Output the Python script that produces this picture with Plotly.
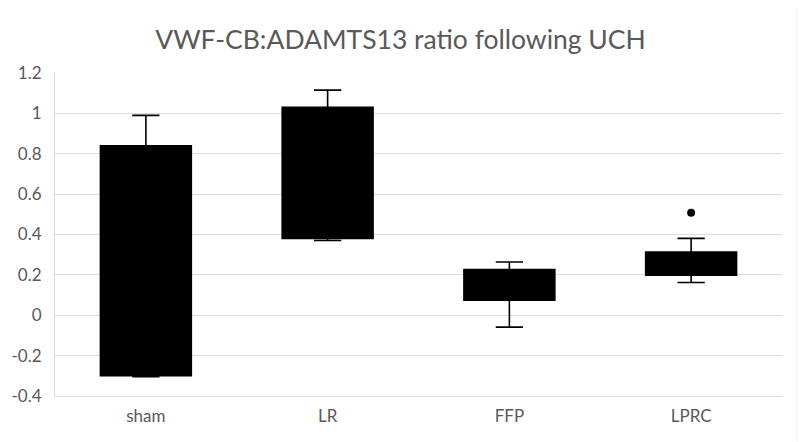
import plotly.graph_objects as go

categories = ["sham", "LR", "FFP", "LPRC"]
lower_whisker = [-0.305, 0.37, -0.059, 0.162]
q1_values = [-0.30, 0.38, 0.074, 0.198]
median_values = [0.40, 0.70, 0.15, 0.25]
q3_values = [0.84, 1.03, 0.226, 0.313]
upper_whisker = [0.99, 1.115, 0.264, 0.381]
outlier_category = ["LPRC"]
outlier_values = [0.508]
y_tick_values = [-0.4, -0.2, 0, 0.2, 0.4, 0.6, 0.8, 1, 1.2]
y_tick_labels = ["-0.4", "-0.2", "0", "0.2", "0.4", "0.6", "0.8", "1", "1.2"]
title_text = "VWF-CB:ADAMTS13 ratio following UCH"

FONT = "Lato, 'Open Sans', sans-serif"
GRAY = "#595959"
GRID = "#dcdcdc"

fig = go.Figure()
fig.add_trace(go.Box(
    x=categories,
    q1=q1_values,
    median=median_values,
    q3=q3_values,
    lowerfence=lower_whisker,
    upperfence=upper_whisker,
    fillcolor="#000000",
    line=dict(color="#000000", width=1.6),
    whiskerwidth=0.3,
    boxpoints=False,
    hoverinfo="skip",
    showlegend=False,
))
fig.add_trace(go.Scatter(
    x=outlier_category,
    y=outlier_values,
    mode="markers",
    marker=dict(color="#000000", size=8),
    hoverinfo="skip",
    showlegend=False,
))

fig.update_layout(
    width=801,
    height=442,
    margin=dict(l=50, r=19, t=73, b=46),
    paper_bgcolor="#ffffff",
    plot_bgcolor="#ffffff",
    boxgap=0.5,
    boxgroupgap=0,
    showlegend=False,
    title=dict(
        text=title_text,
        x=0.5,
        xanchor="center",
        y=0.91,
        yanchor="middle",
        font=dict(family=FONT, size=26.5, color=GRAY),
    ),
    xaxis=dict(
        type="category",
        categoryorder="array",
        categoryarray=categories,
        showgrid=False,
        showline=True,
        linecolor=GRID,
        linewidth=1,
        ticks="",
        tickfont=dict(family=FONT, size=17, color=GRAY),
        ticklabelstandoff=5,
        fixedrange=True,
    ),
    yaxis=dict(
        range=[-0.4, 1.2],
        tickvals=y_tick_values,
        ticktext=y_tick_labels,
        showgrid=True,
        gridcolor=GRID,
        gridwidth=1,
        zeroline=False,
        showline=True,
        linecolor=GRID,
        linewidth=1,
        ticks="",
        tickfont=dict(family=FONT, size=17, color=GRAY),
        ticklabelstandoff=9,
        fixedrange=True,
    ),
)
fig.add_shape(type="line", xref="paper", yref="paper",
              x0=1.0205, x1=1.0205, y0=-0.14, y1=1.2,
              line=dict(color="#ececec", width=1))

fig.write_html(
    "out.html",
    config={"displayModeBar": False},
    post_script="document.body.style.margin='0';document.body.style.overflow='hidden';",
)
